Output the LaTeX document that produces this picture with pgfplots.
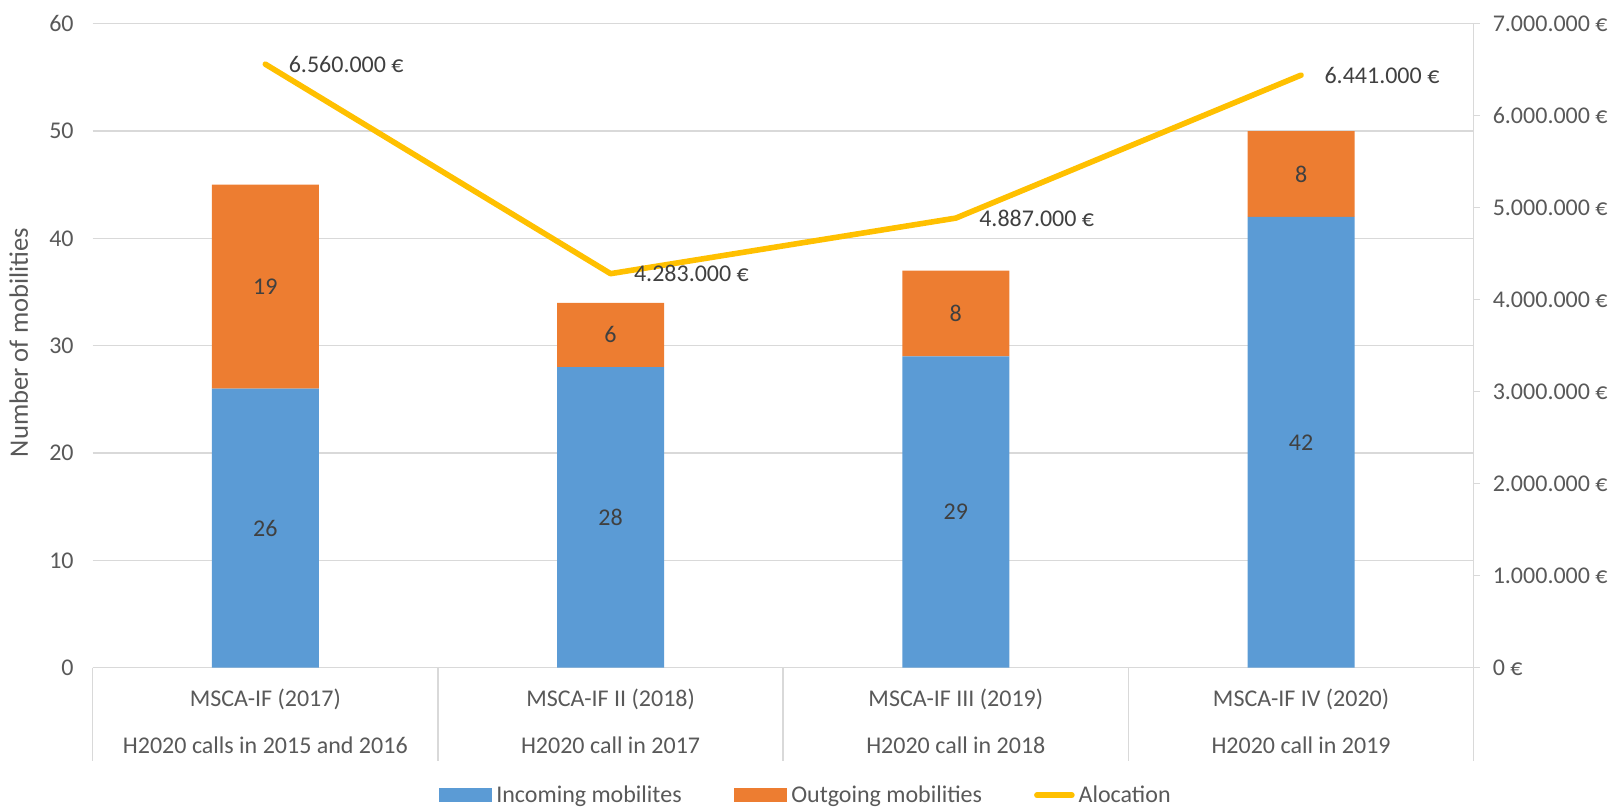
\documentclass[border=0pt]{standalone}
\usepackage{pgfplots}
\pgfplotsset{compat=1.18}
\usepackage{fontspec}
\setmainfont{Carlito}
\definecolor{cblue}{HTML}{5B9BD5}
\definecolor{corange}{HTML}{ED7D31}
\definecolor{cgold}{HTML}{FFC000}
\definecolor{cgrid}{HTML}{D9D9D9}
\definecolor{ctext}{HTML}{595959}
\definecolor{cdark}{HTML}{404040}
\begin{document}
\begin{tikzpicture}[font=\fontsize{12}{14}\selectfont]
\useasboundingbox (-46.35pt,-69.65pt) rectangle (761.65pt,333.85pt);
\pgfplotsset{base/.style={scale only axis, width=690.5pt, height=322pt,
  xmin=-0.5, xmax=3.5, at={(0,0)}, anchor=south west,
  tick label style={text=ctext, font=\fontsize{12}{14}\selectfont},
  /pgf/number format/assume math mode=true}}
% main bar axis
\begin{axis}[base, ybar stacked, bar width=53.5pt, ymin=0, ymax=60,
  ytick={0,10,...,60}, ymajorgrids, major grid style={cgrid, line width=0.75pt},
  axis x line*=bottom, axis y line*=left,
  y axis line style={draw=none}, x axis line style={cgrid, line width=0.75pt},
  ytick style={draw=none}, xtick style={draw=none},
  yticklabel style={xshift=-6pt},
  xtick={0,1,2,3},
  xticklabels={{MSCA-IF (2017)\\H2020 calls in 2015 and 2016},
               {MSCA-IF II (2018)\\H2020 call in 2017},
               {MSCA-IF III (2019)\\H2020 call in 2018},
               {MSCA-IF IV (2020)\\H2020 call in 2019}},
  xticklabel style={align=center, anchor=north, inner sep=0pt, yshift=-10.3pt,
     font=\fontsize{12}{23.5}\selectfont},
  ylabel={Number of mobilities},
  ylabel style={at={(axis description cs:-0.0536,0.505)}, anchor=center, text=ctext,
     font=\fontsize{13.3}{15}\selectfont},
  legend style={draw=none, fill=none, legend columns=3,
     at={(0.517,-0.198)}, anchor=center, text=ctext,
     font=\fontsize{12}{14}\selectfont,
     /tikz/every even column/.append style={column sep=24pt}},
  legend cell align=left,
]
\addplot[fill=cblue, draw=none,
  legend image code/.code={\fill[cblue] (0pt,-3.6pt) rectangle (26.8pt,3.6pt);}]
  coordinates {(0,26) (1,28) (2,29) (3,42)};
\addlegendentry{Incoming mobilites}
\addplot[fill=corange, draw=none,
  legend image code/.code={\fill[corange] (0pt,-3.6pt) rectangle (26.8pt,3.6pt);}]
  coordinates {(0,19) (1,6) (2,8) (3,8)};
\addlegendentry{Outgoing mobilities}
\addlegendimage{legend image code/.code={\draw[cgold, line width=2.8pt, line cap=round] (1pt,0pt) -- (18.5pt,0pt);}}
\addlegendentry{Alocation}
\end{axis}
% separators and bar value labels
\begin{axis}[base, ymin=0, ymax=60, hide axis, clip=false]
\addplot[ycomb, cgrid, line width=0.75pt, mark=none]
  coordinates {(-0.5,-8.67) (0.5,-8.67) (1.5,-8.67) (2.5,-8.67) (3.5,-8.67)};
\addplot[draw=none, mark=none, nodes near coords, point meta=explicit symbolic,
  every node near coord/.append style={anchor=center, text=cdark,
     font=\fontsize{12}{14}\selectfont}]
  coordinates {(0,13)[26] (0,35.5)[19] (1,14)[28] (1,31)[6]
               (2,14.5)[29] (2,33)[8] (3,21)[42] (3,46)[8]};
\end{axis}
% allocation axis
\begin{axis}[base, ymin=0, ymax=7000000, axis y line*=right, axis x line=none,
  y axis line style={cgrid, line width=0.75pt},
  ytick={0,1000000,2000000,3000000,4000000,5000000,6000000,7000000},
  yticklabels={0 €, 1.000.000 €, 2.000.000 €, 3.000.000 €, 4.000.000 €, 5.000.000 €, 6.000.000 €, 7.000.000 €},
  scaled y ticks=false,
  ytick style={cgrid, line width=0.75pt}, tick align=outside, major tick length=3pt,
  yticklabel style={xshift=3pt}, clip=false]
\addplot[cgold, line width=2.8pt, line cap=round, line join=round, mark=none,
  nodes near coords, point meta=explicit symbolic,
  every node near coord/.append style={anchor=west, xshift=7pt, text=cdark,
     font=\fontsize{12}{14}\selectfont}]
  coordinates {(0,6560000)[6.560.000 €] (1,4283000)[4.283.000 €]
               (2,4887000)[4.887.000 €] (3,6441000)[6.441.000 €]};
\end{axis}
\end{tikzpicture}
\end{document}
